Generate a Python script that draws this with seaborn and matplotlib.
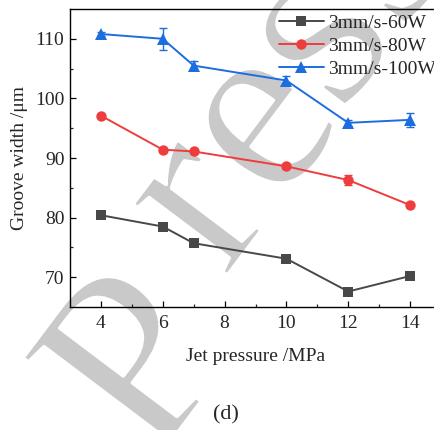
import numpy as np
import pandas as pd
import matplotlib
matplotlib.use("Agg")
import matplotlib.pyplot as plt
import matplotlib.patheffects as pe
import seaborn as sns

# ---- data ----
pressure = [4, 6, 7, 10, 12, 14]
series_names = ["3mm/s-60W", "3mm/s-80W", "3mm/s-100W"]
width_60w = [80.4, 78.5, 75.7, 73.1, 67.6, 70.2]
width_80w = [97.1, 91.4, 91.1, 88.6, 86.3, 82.1]
width_100w = [110.8, 110.0, 105.5, 103.0, 95.9, 96.4]
err_60w = [0.1, 0.1, 0.1, 0.1, 0.1, 0.1]
err_80w = [0.3, 0.3, 0.3, 0.3, 0.8, 0.4]
err_100w = [0.3, 1.8, 0.7, 0.8, 0.5, 1.2]
x_ticks = [4, 6, 8, 10, 12, 14]
y_ticks = [70, 80, 90, 100, 110]
watermark_letters = ["P", "r", "e", "s", "s"]

colors = ["#484848", "#ef3d3d", "#1c6ee0"]
markers = ["s", "o", "^"]
msizes = [6.5, 7.5, 8.5]

sns.set_style("ticks")
plt.rcParams["font.family"] = ["Liberation Serif", "DejaVu Serif"]

df = pd.DataFrame({
    "pressure": pressure * 3,
    "width": width_60w + width_80w + width_100w,
    "series": sum([[n] * len(pressure) for n in series_names], []),
})

W, H = 434, 430
fig = plt.figure(figsize=(W / 100, H / 100), dpi=100)
ax = fig.add_axes([70 / W, 1 - 307 / H, 371 / W, 298 / H])
ax.patch.set_alpha(0)

# watermark letters (behind everything), anchors in image pixels
wm_anchor = [(196, 408), (250, 245), (313, 163), (371, 76), (431, -6)]
for ch, (px, py) in zip(watermark_letters, wm_anchor):
    fig.text(px / W, 1 - py / H, ch, rotation=53, rotation_mode="anchor",
             ha="center", va="baseline", fontsize=185, color="#c9c9c9",
             family="Liberation Serif", zorder=-10,
             path_effects=[pe.Normal(), pe.Stroke(linewidth=2.5, foreground="white")])

sns.lineplot(data=df, x="pressure", y="width", hue="series", style="series",
             hue_order=series_names, style_order=series_names,
             palette=colors, markers=dict(zip(series_names, markers)),
             dashes=False, linewidth=1.4, markeredgewidth=0, ax=ax, legend=False)

for line, ms in zip(ax.get_lines(), msizes):
    line.set_markersize(ms)

errs = [err_60w, err_80w, err_100w]
vals = [width_60w, width_80w, width_100w]
for v, e, c in zip(vals, errs, colors):
    ax.errorbar(pressure, v, yerr=e, fmt="none", ecolor=c, elinewidth=1.0,
                capsize=3.2, capthick=1.0, zorder=1)

ax.set_xlim(3, 15)
ax.set_ylim(65, 115)
ax.set_xticks(x_ticks)
ax.set_yticks(y_ticks)
ax.set_xticks([5, 7, 9, 11, 13], minor=True)
ax.set_yticks([75, 85, 95, 105], minor=True)
ax.tick_params(axis="both", which="major", direction="in", length=4.5, width=0.9,
               labelsize=14, color="black")
ax.tick_params(axis="both", which="minor", direction="in", length=2.5, width=0.9)
ax.tick_params(axis="x", pad=6)
ax.tick_params(axis="y", pad=4)
for s in ax.spines.values():
    s.set_linewidth(1.0)
    s.set_color("black")

ax.set_xlabel("Jet pressure /MPa", fontsize=14, labelpad=11)
ax.set_ylabel("Groove width /μm", fontsize=14, labelpad=5)

handles = [plt.Line2D([], [], color=c, marker=m, markersize=ms, markeredgewidth=0,
                      linewidth=1.4) for c, m, ms in zip(colors, markers, msizes)]
ax.legend(handles, series_names, loc="upper left", bbox_to_anchor=(0.563, 0.983),
          frameon=False, fontsize=14, handlelength=2.3, handletextpad=0.25,
          borderpad=0.0, borderaxespad=0.0, labelspacing=0.28)

fig.text(226 / W, 1 - 415 / H, "(d)", ha="center", va="center", fontsize=16)

fig.savefig("out.png", dpi=100)
